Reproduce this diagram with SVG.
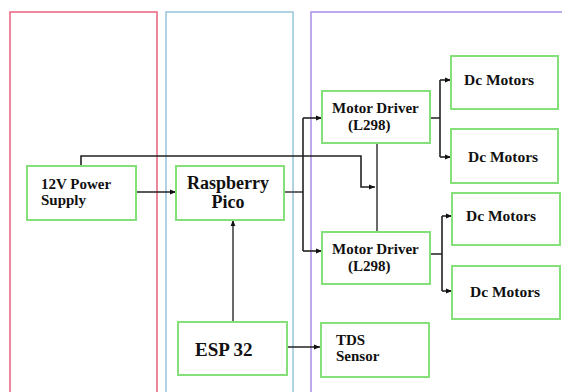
<svg xmlns="http://www.w3.org/2000/svg" width="562" height="392" viewBox="0 0 562 392">
<defs>
<style>
.col{fill:none;stroke-width:1.5}
.box{fill:#fff;stroke:#86e07a;stroke-width:2}
.t{font-family:'Liberation Serif','DejaVu Serif','Times New Roman',serif;font-weight:700;fill:#111}
.w{fill:none;stroke:#222;stroke-width:1.6}
.g{fill:none;stroke:#444;stroke-width:1.6}
</style>
<marker id="a" viewBox="0 0 10 10" refX="10" refY="5" markerWidth="6" markerHeight="6" orient="auto" markerUnits="userSpaceOnUse"><path d="M0,1 L10,5 L0,9 z" fill="#111"/></marker>
</defs>
<rect width="562" height="392" fill="#fff"/>
<g id="columns">
<rect class="col" x="10" y="12" width="147" height="400" stroke="#e8607e"/>
<rect class="col" x="166" y="12" width="127" height="400" stroke="#98c4dc"/>
<rect class="col" x="311" y="12" width="270" height="400" stroke="#a88ee6"/>
</g>
<g id="connectors">
<path class="w" d="M81,166 V156 H361 V187 H375" marker-end="url(#a)"/>
<path class="w" d="M136,192 H176" marker-end="url(#a)"/>
<path class="g" d="M284,192 H303"/>
<path class="w" d="M303,118 V251"/>
<path class="w" d="M303,118 H322" marker-end="url(#a)"/>
<path class="w" d="M303,251 H322" marker-end="url(#a)"/>
<path class="g" d="M377,143 V232"/>
<path class="w" d="M430,118 H440 M440,80 V157"/>
<path class="w" d="M440,80 H451" marker-end="url(#a)"/>
<path class="w" d="M440,157 H451" marker-end="url(#a)"/>
<path class="w" d="M430,254 H442 M442,216 V291"/>
<path class="w" d="M442,216 H452" marker-end="url(#a)"/>
<path class="w" d="M442,291 H452" marker-end="url(#a)"/>
<path class="g" d="M233,322 V220" marker-end="url(#a)"/>
<path class="w" d="M287,347 H320" marker-end="url(#a)"/>
</g>
<g id="power">
<rect class="box" x="27" y="166" width="109" height="54"/>
<text class="t" x="41" y="189" font-size="15">12V Power</text>
<text class="t" x="41" y="205" font-size="15">Supply</text>
</g>
<g id="pico">
<rect class="box" x="176" y="166" width="108" height="54"/>
<text class="t" x="228" y="189" font-size="18" text-anchor="middle">Raspberry</text>
<text class="t" x="228" y="208" font-size="18" text-anchor="middle">Pico</text>
</g>
<g id="esp32">
<rect class="box" x="178" y="322" width="109" height="53"/>
<text class="t" x="195" y="356" font-size="19">ESP 32</text>
</g>
<g id="tds">
<rect class="box" x="321" y="323" width="108" height="54"/>
<text class="t" x="336" y="345" font-size="15">TDS</text>
<text class="t" x="336" y="361" font-size="15">Sensor</text>
</g>
<g id="driver1">
<rect class="box" x="322" y="91" width="108" height="52"/>
<text class="t" x="332" y="113" font-size="15">Motor Driver</text>
<text class="t" x="348" y="130" font-size="15">(L298)</text>
</g>
<g id="driver2">
<rect class="box" x="322" y="232" width="108" height="52"/>
<text class="t" x="332" y="254" font-size="15">Motor Driver</text>
<text class="t" x="348" y="271" font-size="15">(L298)</text>
</g>
<g id="motor1">
<rect class="box" x="451" y="56" width="107" height="53"/>
<text class="t" x="464" y="85" font-size="15.5">Dc Motors</text>
</g>
<g id="motor2">
<rect class="box" x="451" y="129" width="107" height="54"/>
<text class="t" x="468" y="162" font-size="15.5">Dc Motors</text>
</g>
<g id="motor3">
<rect class="box" x="452" y="193" width="108" height="52"/>
<text class="t" x="466" y="221" font-size="15.5">Dc Motors</text>
</g>
<g id="motor4">
<rect class="box" x="452" y="266" width="108" height="53"/>
<text class="t" x="470" y="297" font-size="15.5">Dc Motors</text>
</g>
</svg>
